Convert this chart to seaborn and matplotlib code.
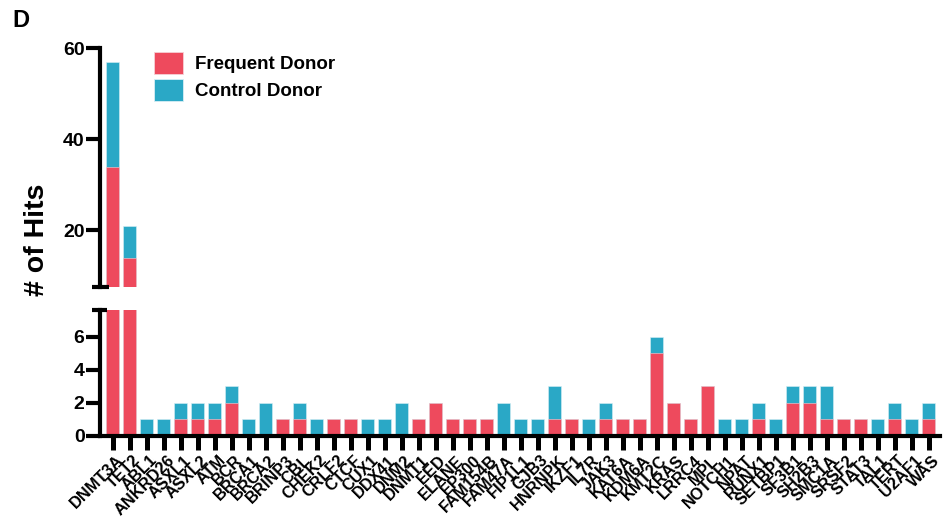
import matplotlib
matplotlib.use("Agg")
import matplotlib.pyplot as plt
import matplotlib.transforms as mtransforms
from matplotlib.patches import Patch
import seaborn as sns
import pandas as pd
import numpy as np

genes = ["DNMT3A", "TET2", "ABL1", "ANKRD26", "ASXL1", "ASXL2", "ATM", "BCR", "BRCA1", "BRCA2",
         "BRINP3", "CBL", "CHEK2", "CRLF2", "CTCF", "CUX1", "DDX41", "DNM2", "DNMT1", "EED",
         "ELANE", "EP300", "FAM154B", "FAM47A", "FIP1L1", "GJB3", "HNRNPK", "IKZF1", "IL7R", "JAK3",
         "KAT6A", "KDM6A", "KMT2C", "KRAS", "LRRC4", "MPL", "NOTCH1", "NPAT", "RUNX1", "SETBP1",
         "SF3B1", "SH2B3", "SMC1A", "SRSF2", "STAT3", "TAL1", "TERT", "U2AF1", "WAS"]
frequent = [34, 14, 0, 0, 1, 1, 1, 2, 0, 0,
            1, 1, 0, 1, 1, 0, 0, 0, 1, 2,
            1, 1, 1, 0, 0, 0, 1, 1, 0, 1,
            1, 1, 5, 2, 1, 3, 0, 0, 1, 0,
            2, 2, 1, 1, 1, 0, 1, 0, 1]
control = [23, 7, 1, 1, 1, 1, 1, 1, 1, 2,
           0, 1, 1, 0, 0, 1, 1, 2, 0, 0,
           0, 0, 0, 2, 1, 1, 2, 0, 1, 1,
           0, 0, 1, 0, 0, 0, 1, 1, 1, 1,
           1, 1, 2, 0, 0, 1, 1, 1, 1]
series_names = ["Frequent Donor", "Control Donor"]

RED = "#EE4A5D"
BLUE = "#2AA8C6"

df = pd.DataFrame({"gene": genes, "frequent": frequent, "control": control})
df["total"] = df["frequent"] + df["control"]

sns.set_style("white")
plt.rcParams["font.family"] = ["Liberation Sans", "DejaVu Sans"]
plt.rcParams["font.weight"] = "bold"
for k in ["text.color", "axes.labelcolor", "xtick.color", "ytick.color"]:
    plt.rcParams[k] = "black"

fig = plt.figure(figsize=(9.51, 5.19), dpi=100)
ax_top = fig.add_axes([0.105, 0.447, 0.883, 0.4605])
ax_bot = fig.add_axes([0.105, 0.160, 0.883, 0.2427])

for ax in (ax_top, ax_bot):
    sns.barplot(data=df, x="gene", y="total", order=genes, color=BLUE, width=0.77,
                edgecolor="#d8eef4", linewidth=0.4, ax=ax, saturation=1)
    sns.barplot(data=df, x="gene", y="frequent", order=genes, color=RED, width=0.77,
                edgecolor="#f7d0d5", linewidth=0.4, ax=ax, saturation=1)
    ax.set_xlim(-0.76, 48.65)
    ax.set_xlabel("")
    ax.set_ylabel("")
    for s in ax.spines.values():
        s.set_linewidth(3)
        s.set_color("black")

# top axis
ax_top.set_ylim(7.6, 60)
ax_top.set_yticks([20, 40, 60])
ax_top.spines["top"].set_visible(False)
ax_top.spines["right"].set_visible(False)
ax_top.spines["bottom"].set_visible(False)
ax_top.tick_params(axis="x", which="both", bottom=False, labelbottom=False)
ax_top.tick_params(axis="y", left=True, direction="out", length=10, width=3, labelsize=14,
                   pad=1, color="black", labelcolor="black")
for t in ax_top.get_yticklabels():
    t.set_fontweight("bold")

# bottom axis
ax_bot.set_ylim(0, 7.6)
ax_bot.set_yticks([0, 2, 4, 6])
ax_bot.spines["top"].set_visible(False)
ax_bot.spines["right"].set_visible(False)
ax_bot.tick_params(axis="y", left=True, direction="out", length=10, width=3, labelsize=14,
                   pad=1, color="black", labelcolor="black")
ax_bot.set_xticks(range(len(genes)))
ax_bot.set_xticklabels(genes, rotation=45, ha="right", rotation_mode="anchor", fontweight="bold")
ax_bot.tick_params(axis="x", bottom=True, direction="out", length=10, width=3.6, labelsize=11.8,
                   pad=2, color="black", labelcolor="black")
offset = mtransforms.ScaledTranslation(3 / 100, 0, fig.dpi_scale_trans)
for t in ax_bot.get_xticklabels():
    t.set_transform(t.get_transform() + offset)
for t in ax_bot.get_yticklabels():
    t.set_fontweight("bold")

# axis break marks
ax_top.plot([-0.009, 0.011], [0, 0], transform=ax_top.transAxes, color="black", lw=3,
            clip_on=False, solid_capstyle="butt")
ax_bot.plot([-0.009, 0.009], [1, 1], transform=ax_bot.transAxes, color="black", lw=3,
            clip_on=False, solid_capstyle="butt")

# legend
handles = [Patch(facecolor=RED, edgecolor="#f7d0d5", linewidth=0.6),
           Patch(facecolor=BLUE, edgecolor="#d8eef4", linewidth=0.6)]
leg = ax_top.legend(handles, series_names, loc="upper left",
                    bbox_to_anchor=(154 / 951, 1 - 52 / 519), bbox_transform=fig.transFigure,
                    borderpad=0, borderaxespad=0, frameon=False,
                    handlelength=1.55, handleheight=1.45, handletextpad=0.64,
                    labelspacing=0.25, prop={"weight": "bold", "size": 13.5})

fig.text(0.0394, 0.5376, "# of Hits", rotation=90, ha="center", va="center",
         fontsize=20.5, fontweight="bold")
fig.text(0.0126, 1 - 27 / 519, "D", ha="left", va="baseline", fontsize=17, fontweight="bold")

fig.savefig("out.png", dpi=100)
